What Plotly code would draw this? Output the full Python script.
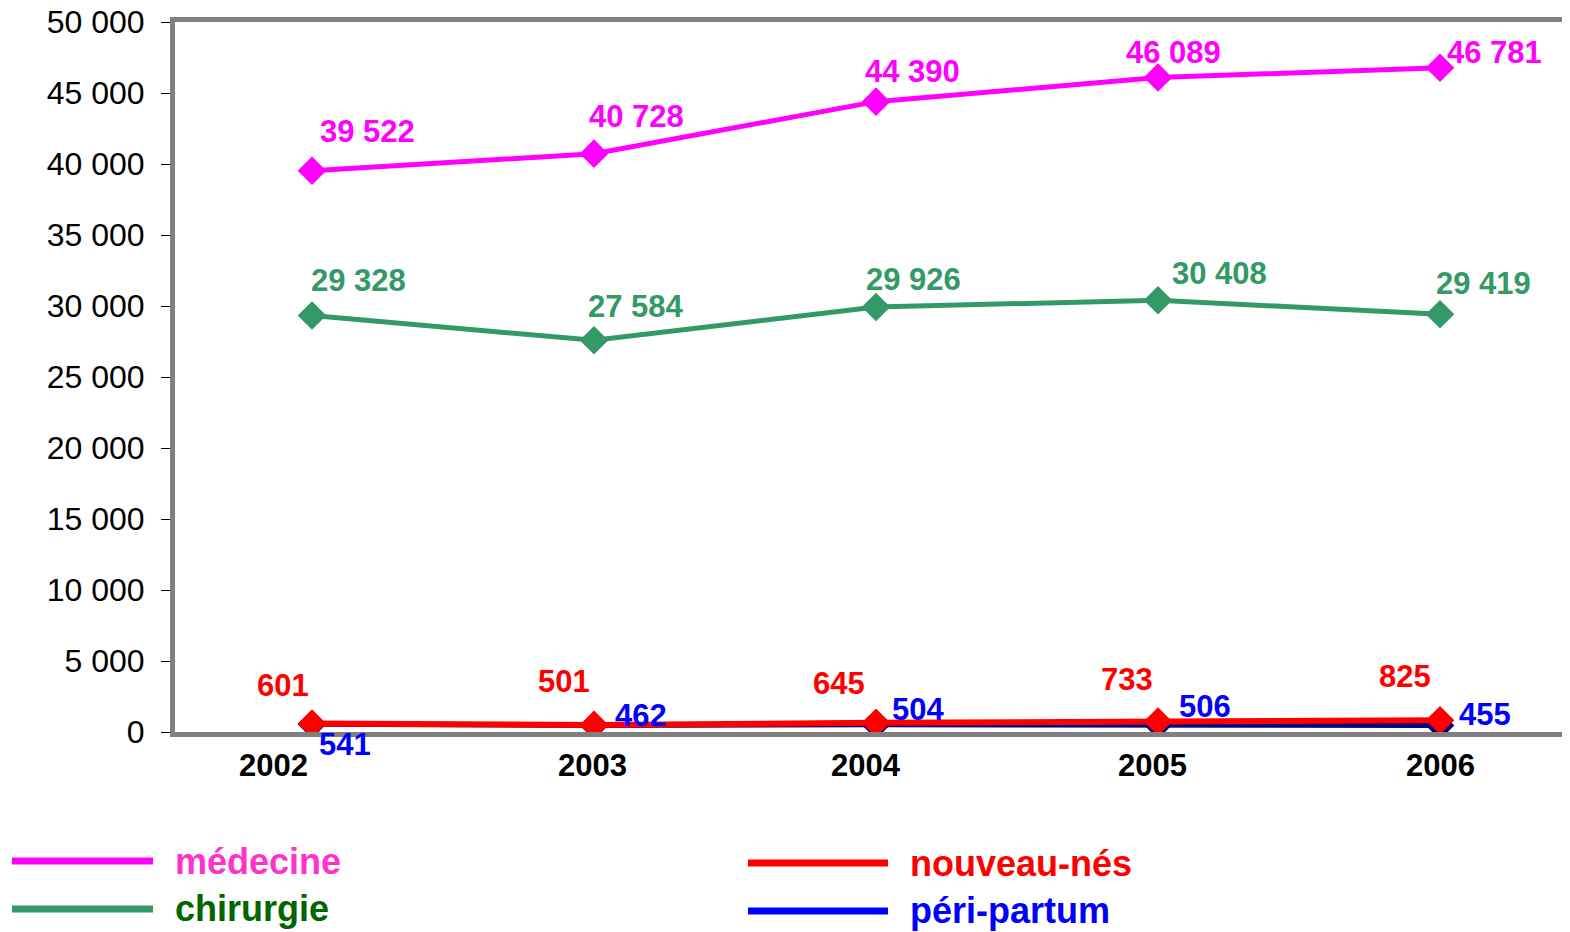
import plotly.graph_objects as go

years = ["2002", "2003", "2004", "2005", "2006"]
medecine = [39522, 40728, 44390, 46089, 46781]
chirurgie = [29328, 27584, 29926, 30408, 29419]
nouveau_nes = [601, 501, 645, 733, 825]
peri_partum = [541, 462, 504, 506, 455]
y_ticks = [0, 5000, 10000, 15000, 20000, 25000, 30000, 35000, 40000, 45000, 50000]
y_ticktext = ["0", "5 000", "10 000", "15 000", "20 000", "25 000", "30 000",
              "35 000", "40 000", "45 000", "50 000"]
series_names = ["médecine", "chirurgie", "nouveau-nés", "péri-partum"]


def fmt(v):
    return f"{v:,}".replace(",", " ")


OFF = 8  # page body margin
W, H = 1570, 932
PL = 175  # plot area left in page pixels
L, R, T, B = PL - OFF, 2 + OFF, 22 - OFF, 200 + OFF
pw, ph = W - L - R, H - T - B
step = 282.0
x_range = [-(312 - PL) / step, 4 + (1568 - 1440) / step]

fig = go.Figure()

fig.add_trace(go.Scatter(x=years, y=peri_partum, mode="lines+markers",
                         line=dict(color="#000080", width=5),
                         marker=dict(symbol="diamond", size=22, color="#000080")))
fig.add_trace(go.Scatter(x=years, y=nouveau_nes, mode="lines+markers",
                         line=dict(color="#FF0000", width=6),
                         marker=dict(symbol="diamond", size=22, color="#FF0000")))
fig.add_trace(go.Scatter(x=years, y=chirurgie, mode="lines+markers",
                         line=dict(color="#339966", width=5),
                         marker=dict(symbol="diamond", size=22, color="#339966")))
fig.add_trace(go.Scatter(x=years, y=medecine, mode="lines+markers",
                         line=dict(color="#FF00FF", width=5),
                         marker=dict(symbol="diamond", size=22, color="#FF00FF")))

font_family = "Liberation Sans, Arial, sans-serif"
annotations = []

label_specs = [
    (medecine, "#FF00FF", [(55, 39), (42, 37), (36, 30), (15, 25), (54, 15)]),
    (chirurgie, "#339966", [(46, 35), (42, 34), (37, 28), (61, 27), (43, 31)]),
    (nouveau_nes, "#FF0000", [(-29, 38), (-30, 43), (-37, 39), (-31, 42), (-35, 44)]),
    (peri_partum, "#0000FF", [(33, -20), (47, 10), (42, 15), (47, 18), (45, 11)]),
]
for vals, col, shifts in label_specs:
    for i, (yv, (dx, dy)) in enumerate(zip(vals, shifts)):
        annotations.append(dict(x=i, y=yv, xref="x", yref="y",
                                text="<b>" + fmt(yv) + "</b>",
                                showarrow=False, xshift=dx, yshift=dy,
                                font=dict(family=font_family, size=31, color=col)))

year_shifts = [-39, -2, -10, -6, 0]
for i, (yr, dx) in enumerate(zip(years, year_shifts)):
    annotations.append(dict(x=i, y=0, xref="x", yref="y", text="<b>" + yr + "</b>",
                            showarrow=False, xshift=dx, yshift=-33,
                            font=dict(family=font_family, size=31, color="black")))


def px_x(p):
    return (p - OFF - L) / pw


def px_y(p):
    return (H - B - (p - OFF)) / ph


legend_items = [
    (series_names[0], "#FF00FF", "#FF33CC", 12, 153, 173, 861),
    (series_names[1], "#339966", "#006600", 12, 153, 173, 909),
    (series_names[2], "#FF0000", "#FF0000", 748, 888, 908, 863),
    (series_names[3], "#0000FF", "#0000FF", 748, 888, 908, 911),
]
shapes = []
for name, lc, tc, x0, x1, tx, yy in legend_items:
    shapes.append(dict(type="line", xref="paper", yref="paper",
                       x0=px_x(x0), x1=px_x(x1), y0=px_y(yy), y1=px_y(yy),
                       line=dict(color=lc, width=7)))
    annotations.append(dict(x=px_x(tx), y=px_y(yy), xref="paper", yref="paper",
                            text="<b>" + name + "</b>", showarrow=False,
                            xanchor="left", yanchor="middle",
                            font=dict(family=font_family, size=36, color=tc)))

fig.update_layout(
    width=W, height=H,
    margin=dict(l=L, r=R, t=T, b=B, autoexpand=False),
    paper_bgcolor="white", plot_bgcolor="white",
    showlegend=False,
    annotations=annotations,
    shapes=shapes,
    xaxis=dict(type="category", range=x_range, showgrid=False, automargin=False,
               showline=True, linecolor="#808080", linewidth=5, mirror=True,
               showticklabels=False, ticks="", zeroline=False),
    yaxis=dict(range=[0, 50000], tickvals=y_ticks, ticktext=y_ticktext,
               showgrid=False, showline=True, linecolor="#808080", linewidth=5,
               automargin=False,
               ticks="outside", ticklen=9, tickcolor="black", tickwidth=1,
               ticklabeloverflow="allow", ticklabelstandoff=10,
               tickfont=dict(family=font_family, size=32, color="black"),
               zeroline=False),
)

fig.write_html("out.html")
